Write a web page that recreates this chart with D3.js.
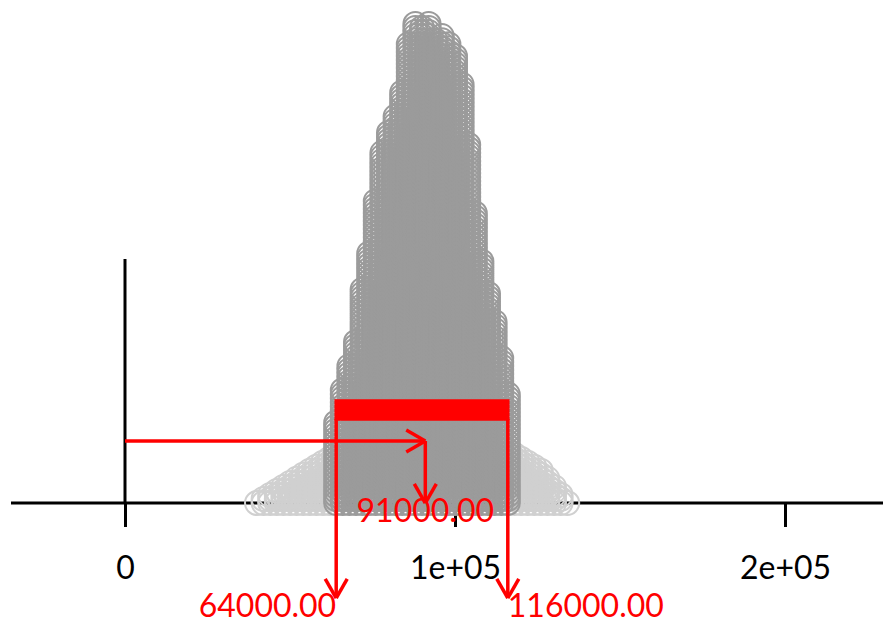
<!DOCTYPE html>
<html>
<head>
<meta charset="utf-8">
<script src="https://cdn.jsdelivr.net/npm/d3@7"></script>
<style>
  body { margin: 0; background: #fff; }
  svg { display: block; }
</style>
</head>
<body>
<svg id="chart" width="883" height="624"></svg>
<script>
// 数据: stacked sample counts per 2000-wide bin
var binValues = [40000, 42000, 44000, 46000, 48000, 50000, 52000, 54000, 56000, 58000,
                 60000, 62000, 64000, 66000, 68000, 70000, 72000, 74000, 76000, 78000,
                 80000, 82000, 84000, 86000, 88000, 90000, 92000, 94000, 96000, 98000,
                 100000, 102000, 104000, 106000, 108000, 110000, 112000, 114000, 116000, 118000,
                 120000, 122000, 124000, 126000, 128000, 130000, 132000, 134000];
var binCounts = [1, 2, 3, 4, 5, 6, 7, 8, 9, 10,
                 11, 12, 21, 29, 35, 41, 54, 63, 76, 88,
                 93, 97, 103, 115, 120, 119, 120, 116, 117, 115,
                 112, 105, 90, 73, 61, 53, 46, 37, 28, 13,
                 12, 11, 10, 9, 7, 5, 3, 1];
var interval = [64000, 116000];
var intervalLabels = ["64000.00", "116000.00"];
var meanValue = 91000;
var meanLabel = "91000.00";
var tickValues = [0, 100000, 200000];
var tickLabels = ["0", "1e+05", "2e+05"];

var red = "#ff0000";
var fontFamily = "Lato, 'DejaVu Sans', sans-serif";

var svg = d3.select("#chart");

var xScale = d3.scaleLinear().domain([0, 200000]).range([125, 785]);
var yScale = d3.scaleLinear().domain([0, 120]).range([503, 20]);
var baseY = yScale(0);

// x轴 + 竖线
svg.append("line")
    .attr("x1", 11).attr("x2", 883)
    .attr("y1", baseY).attr("y2", baseY)
    .attr("stroke", "#000").attr("stroke-width", 3);
svg.append("line")
    .attr("x1", xScale(0)).attr("x2", xScale(0))
    .attr("y1", 259).attr("y2", baseY)
    .attr("stroke", "#000").attr("stroke-width", 3);

var xAxis = d3.axisBottom(xScale)
    .tickValues(tickValues)
    .tickFormat(function(d, i) { return tickLabels[i]; })
    .tickSize(24)
    .tickPadding(29);
var gx = svg.append("g")
    .attr("transform", "translate(0," + baseY + ")")
    .call(xAxis);
gx.select(".domain").remove();
gx.selectAll(".tick line").attr("stroke", "#000").attr("stroke-width", 3);
gx.selectAll(".tick text")
    .attr("fill", "#000")
    .style("font-family", fontFamily)
    .style("font-size", "32px");

// 圆点
var points = [];
binValues.forEach(function(v, i) {
    var inside = v >= interval[0] && v <= interval[1];
    for (var k = 0; k < binCounts[i]; k++) {
        points.push({v: v, k: k, inside: inside});
    }
});
points.sort(function(a, b) { return a.inside - b.inside; });

svg.append("g").selectAll("circle")
    .data(points)
    .enter()
    .append("circle")
    .attr("cx", function(d) { return xScale(d.v); })
    .attr("cy", function(d) { return yScale(d.k); })
    .attr("r", 12)
    .attr("fill", "none")
    .attr("stroke", function(d) { return d.inside ? "#9b9b9b" : "#d0d0d0"; })
    .attr("stroke-width", 2);

// 红色标注
var ann = svg.append("g").attr("stroke", red).attr("stroke-width", 3.5).attr("fill", "none");

function arrow(x1, y1, x2, y2) {
    ann.append("line").attr("x1", x1).attr("y1", y1).attr("x2", x2).attr("y2", y2);
    var ang = Math.atan2(y2 - y1, x2 - x1);
    [-1, 1].forEach(function(s) {
        var a = ang + Math.PI + s * Math.PI / 6;
        ann.append("line")
            .attr("x1", x2).attr("y1", y2)
            .attr("x2", x2 + 22 * Math.cos(a))
            .attr("y2", y2 + 22 * Math.sin(a));
    });
}

ann.append("rect")
    .attr("x", xScale(interval[0]))
    .attr("y", 401)
    .attr("width", xScale(interval[1]) - xScale(interval[0]))
    .attr("height", 18)
    .attr("fill", red);

var hY = 441;
arrow(xScale(0), hY, xScale(meanValue), hY);
arrow(xScale(meanValue), hY, xScale(meanValue), baseY);
arrow(xScale(interval[0]), 419, xScale(interval[0]), 598);
arrow(xScale(interval[1]), 419, xScale(interval[1]), 598);

var labels = svg.append("g")
    .attr("fill", red)
    .style("font-family", fontFamily)
    .style("font-size", "32px");
labels.append("text")
    .attr("x", xScale(meanValue)).attr("y", 522)
    .attr("text-anchor", "middle")
    .text(meanLabel);
labels.append("text")
    .attr("x", xScale(interval[0])).attr("y", 617)
    .attr("text-anchor", "end")
    .text(intervalLabels[0]);
labels.append("text")
    .attr("x", xScale(interval[1])).attr("y", 617)
    .attr("text-anchor", "start")
    .text(intervalLabels[1]);
</script>
</body>
</html>
